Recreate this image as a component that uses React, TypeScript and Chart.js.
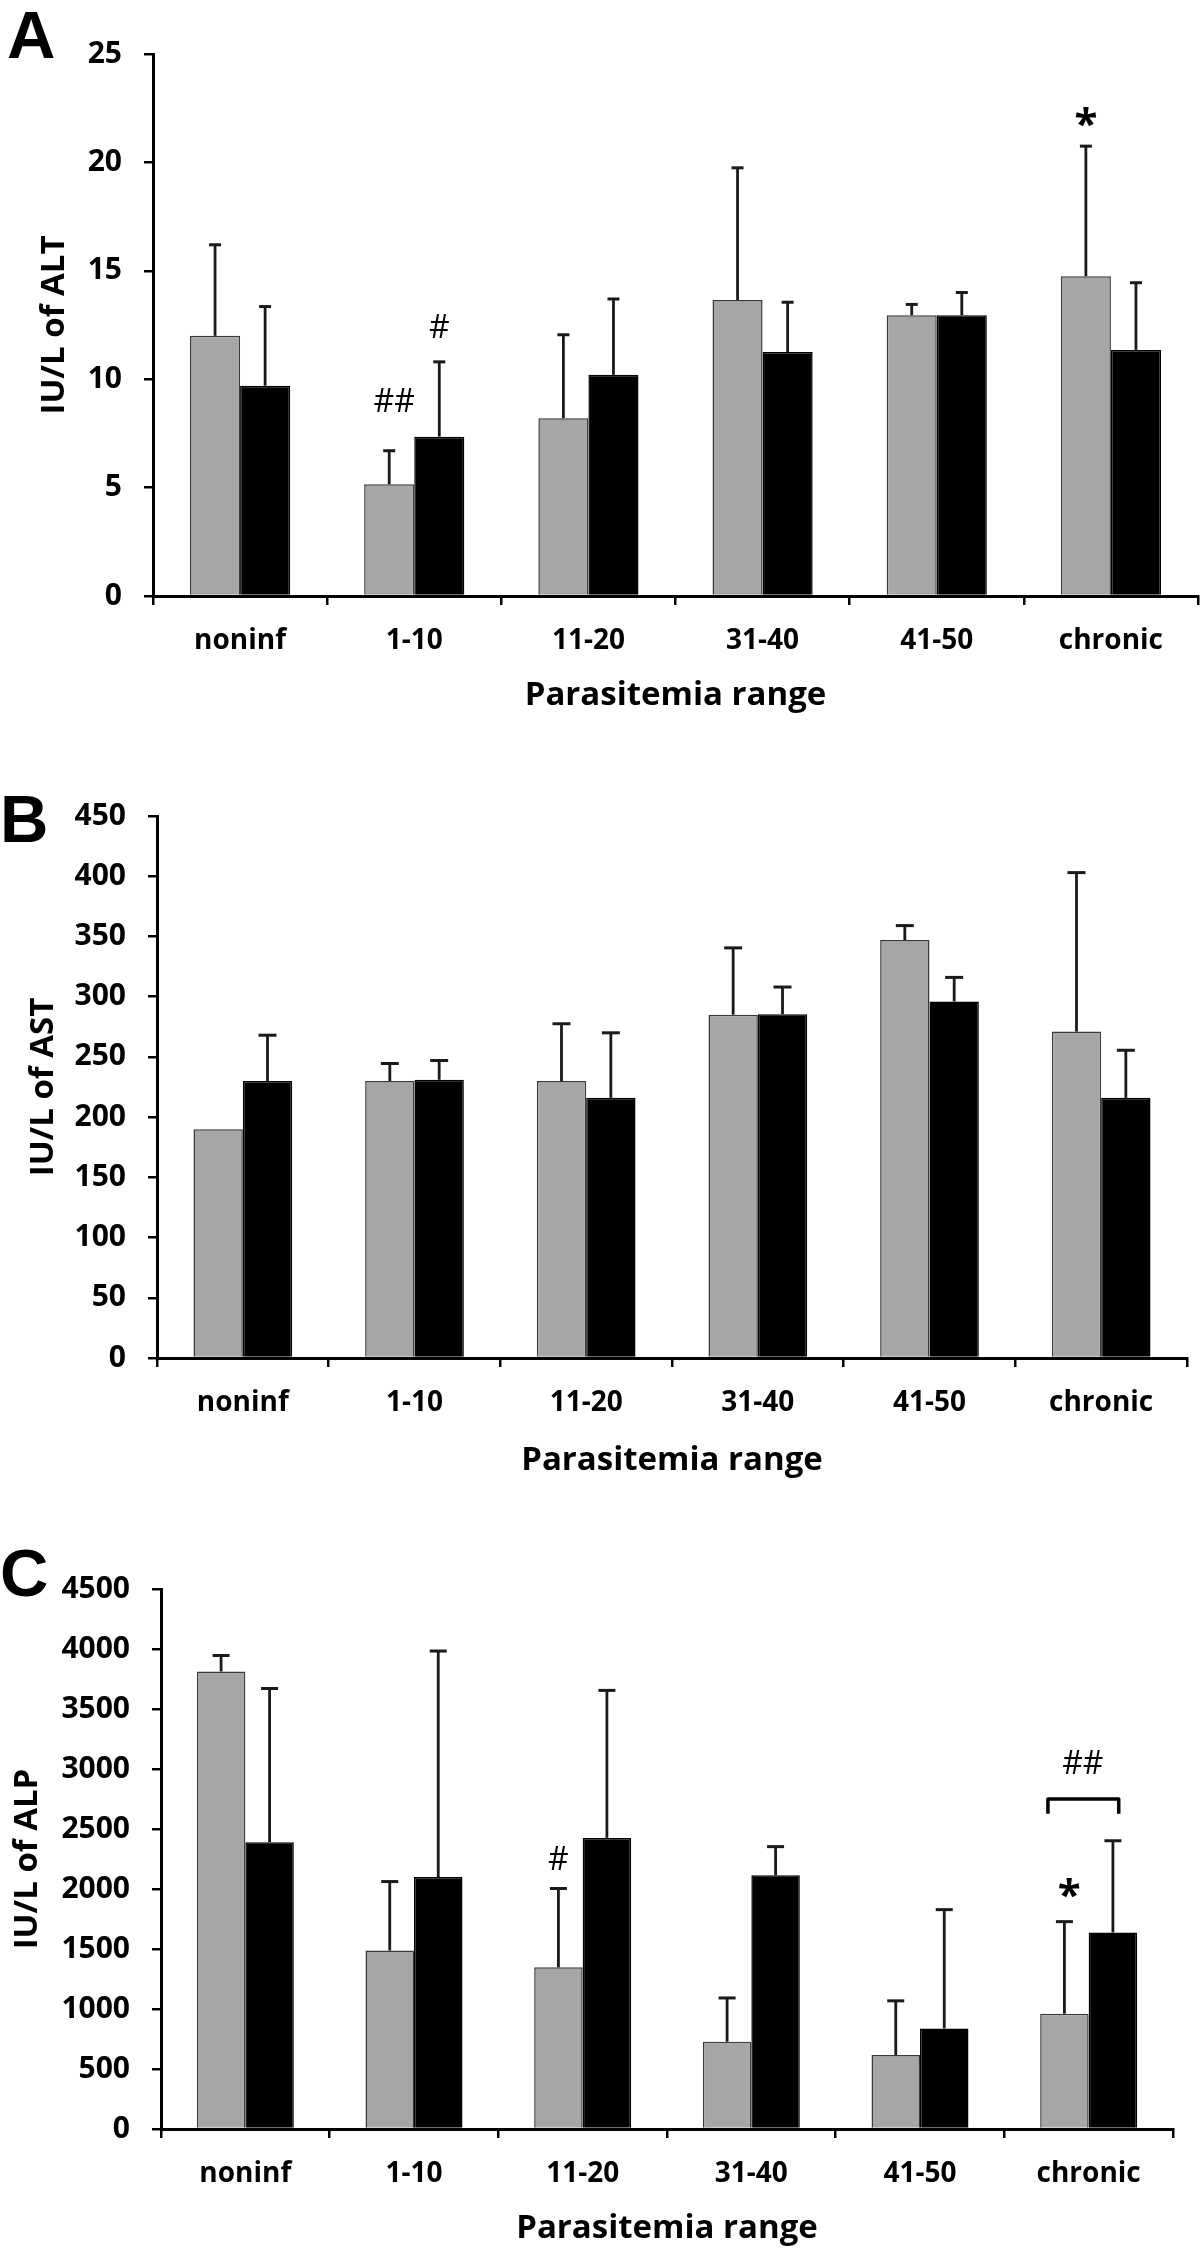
import React, { useEffect, useRef } from "react";
import { Chart, registerables } from "chart.js";

Chart.register(...registerables);

// ---------- data ----------
const categories = ["noninf", "1-10", "11-20", "31-40", "41-50", "chronic"];

// Panel A : ALT
const altGray = [12.0, 5.15, 8.2, 13.65, 12.95, 14.75];
const altGrayErr = [4.2, 1.55, 3.85, 6.1, 0.5, 6.0];
const altBlack = [9.7, 7.35, 10.2, 11.25, 12.95, 11.35];
const altBlackErr = [3.65, 3.45, 3.5, 2.3, 1.05, 3.1];

// Panel B : AST
const astGray = [190, 230, 230, 285, 347, 271];
const astGrayErr = [0, 14.5, 47.5, 55.5, 12, 132];
const astBlack = [230, 231, 216, 285.5, 296, 216];
const astBlackErr = [38, 16, 54, 22.5, 20, 39.5];

// Panel C : ALP
const alpGray = [3813, 1487, 1347, 727, 616, 961];
const alpGrayErr = [133, 575, 657, 365, 452, 767];
const alpBlack = [2390, 2099, 2426, 2114, 838, 1638];
const alpBlackErr = [1281, 1884, 1229, 239, 990, 764];

// axis ranges
const altAxis = { max: 25, step: 5 };
const astAxis = { max: 450, step: 50 };
const alpAxis = { max: 4500, step: 500 };

const xTitle = "Parasitemia range";

// significance marks: category, position between gray(0) and black(1), value (glyph centre)
const altMarks = [
  { cat: 1, t: 0.1, value: 9.03, text: "##", kind: "hash" },
  { cat: 1, t: 1.0, value: 12.45, text: "#", kind: "hash" },
  { cat: 5, t: 0.0, value: 22.1, text: "*", kind: "star" },
];
const alpMarks = [
  { cat: 2, t: 0.0, value: 2258, text: "#", kind: "hash" },
  { cat: 5, t: 0.1, value: 2011, text: "*", kind: "star" },
  { cat: 5, t: 0.38, value: 3062, text: "##", kind: "hash" },
];
const alpBracket = { cat: 5, t0: -0.34, t1: 1.12, top: 2750, bottom: 2627 };

// ---------- styling ----------
const FONT = '"Open Sans", sans-serif';
const GRAY = "#a6a6a6";

interface Mark { cat: number; t: number; value: number; text: string; kind: string }
interface PanelCfg {
  letter: string; letterX: number; letterY: number;
  top: number; height: number;
  gray: number[]; grayErr: number[]; black: number[]; blackErr: number[];
  yMax: number; yStep: number; yTitle: string;
  pad: { top: number; left: number; right: number; bottom: number };
  yWidth: number; xHeight: number; capW: number;
  marks: Mark[];
  bracket?: { cat: number; t0: number; t1: number; top: number; bottom: number };
}

const panels: PanelCfg[] = [
  {
    letter: "A", letterX: 7, letterY: 58, top: 0, height: 740,
    gray: altGray, grayErr: altGrayErr, black: altBlack, blackErr: altBlackErr,
    yMax: altAxis.max, yStep: altAxis.step, yTitle: "IU/L of ALT",
    pad: { top: 54, left: 38, right: 2, bottom: 28 }, yWidth: 115, xHeight: 116, capW: 12,
    marks: altMarks,
  },
  {
    letter: "B", letterX: 0, letterY: 102, top: 740, height: 760,
    gray: astGray, grayErr: astGrayErr, black: astBlack, blackErr: astBlackErr,
    yMax: astAxis.max, yStep: astAxis.step, yTitle: "IU/L of AST",
    pad: { top: 76, left: 27, right: 13, bottom: 23 }, yWidth: 130, xHeight: 119, capW: 18,
    marks: [],
  },
  {
    letter: "C", letterX: 0, letterY: 96, top: 1500, height: 752,
    gray: alpGray, grayErr: alpGrayErr, black: alpBlack, blackErr: alpBlackErr,
    yMax: alpAxis.max, yStep: alpAxis.step, yTitle: "IU/L of ALP",
    pad: { top: 89, left: 11, right: 27, bottom: 7 }, yWidth: 150, xHeight: 116, capW: 17,
    marks: alpMarks, bracket: alpBracket,
  },
];

function Panel({ cfg }: { cfg: PanelCfg }) {
  const ref = useRef<HTMLCanvasElement | null>(null);

  useEffect(() => {
    if (!ref.current) return;
    const errs = [cfg.grayErr, cfg.blackErr];

    const xAt = (chart: any, cat: number, t: number) => {
      const g = chart.getDatasetMeta(0).data[cat] as any;
      const b = chart.getDatasetMeta(1).data[cat] as any;
      return g.x + t * (b.x - g.x);
    };

    const extras = {
      id: "extras",
      afterDatasetsDraw(chart: any) {
        const { ctx } = chart;
        const y = chart.scales.y;
        ctx.save();
        // error bars (upper only)
        ctx.strokeStyle = "#1a1a1a";
        chart.data.datasets.forEach((ds: any, i: number) => {
          const meta = chart.getDatasetMeta(i);
          meta.data.forEach((el: any, j: number) => {
            const e = errs[i][j];
            if (!e) return;
            const v = ds.data[j] as number;
            const yt = y.getPixelForValue(v + e);
            ctx.lineWidth = 2.8;
            ctx.beginPath();
            ctx.moveTo(el.x, el.y);
            ctx.lineTo(el.x, yt);
            ctx.stroke();
            ctx.lineWidth = 3;
            ctx.beginPath();
            ctx.moveTo(el.x - cfg.capW / 2, yt);
            ctx.lineTo(el.x + cfg.capW / 2, yt);
            ctx.stroke();
          });
        });
        // significance marks
        ctx.fillStyle = "#000";
        cfg.marks.forEach((m) => {
          ctx.font = m.kind === "star" ? `bold 42px ${FONT}` : `normal 32px ${FONT}`;
          const mt = ctx.measureText(m.text);
          const asc = mt.actualBoundingBoxAscent;
          const desc = mt.actualBoundingBoxDescent;
          const yc = y.getPixelForValue(m.value);
          ctx.textAlign = "center";
          ctx.textBaseline = "alphabetic";
          ctx.fillText(m.text, xAt(chart, m.cat, m.t), yc + (asc - desc) / 2);
        });
        if (cfg.bracket) {
          const bk = cfg.bracket;
          const x0 = xAt(chart, bk.cat, bk.t0);
          const x1 = xAt(chart, bk.cat, bk.t1);
          const yt = y.getPixelForValue(bk.top);
          const yb = y.getPixelForValue(bk.bottom);
          ctx.strokeStyle = "#000";
          ctx.lineWidth = 3.5;
          ctx.lineJoin = "round";
          ctx.beginPath();
          ctx.moveTo(x0, yb);
          ctx.lineTo(x0, yt);
          ctx.lineTo(x1, yt);
          ctx.lineTo(x1, yb);
          ctx.stroke();
        }
        ctx.restore();
      },
      afterDraw(chart: any) {
        const { ctx } = chart;
        ctx.save();
        ctx.fillStyle = "#000";
        ctx.font = 'bold 67px "Liberation Sans", Arial, sans-serif';
        ctx.textAlign = "left";
        ctx.textBaseline = "alphabetic";
        ctx.fillText(cfg.letter, cfg.letterX, cfg.letterY);
        ctx.restore();
      },
    };

    const chart = new Chart(ref.current, {
      type: "bar",
      data: {
        labels: categories,
        datasets: [
          {
            data: cfg.gray,
            backgroundColor: GRAY,
            borderColor: "#3a3a3a",
            borderWidth: 1.5,
            categoryPercentage: 0.575,
            barPercentage: 1,
          },
          {
            data: cfg.black,
            backgroundColor: "#000",
            borderColor: "#000",
            borderWidth: 1.5,
            categoryPercentage: 0.575,
            barPercentage: 1,
          },
        ],
      },
      options: {
        animation: false,
        responsive: false,
        maintainAspectRatio: false,
        layout: { padding: cfg.pad, autoPadding: false } as any,
        plugins: { legend: { display: false }, tooltip: { enabled: false } },
        scales: {
          x: {
            offset: true,
            grid: {
              display: true,
              offset: true,
              drawOnChartArea: false,
              drawTicks: true,
              tickLength: 9,
              color: "#000",
              lineWidth: 2.5,
            },
            border: { display: true, color: "#000", width: 3 },
            ticks: {
              color: "#000",
              font: { family: FONT, size: 28, weight: "bold" },
              padding: 19,
              maxRotation: 0,
              autoSkip: false,
            },
            title: {
              display: true,
              text: xTitle,
              color: "#000",
              font: { family: FONT, size: 33, weight: "bold", lineHeight: 1 },
              padding: 0,
            },
            afterFit: (s: any) => {
              s.height = cfg.xHeight;
            },
          },
          y: {
            min: 0,
            max: cfg.yMax,
            grid: {
              display: true,
              drawOnChartArea: false,
              drawTicks: true,
              tickLength: 9,
              color: "#000",
              lineWidth: 2.5,
            },
            border: { display: true, color: "#000", width: 3 },
            ticks: {
              stepSize: cfg.yStep,
              color: "#000",
              font: { family: FONT, size: 30, weight: "bold" },
              padding: 22,
              callback: (v: any) => String(v),
            },
            title: {
              display: true,
              text: cfg.yTitle,
              color: "#000",
              font: { family: FONT, size: 33, weight: "bold", lineHeight: 1 },
              padding: 0,
            },
            afterFit: (s: any) => {
              s.width = cfg.yWidth;
            },
          },
        },
      } as any,
      plugins: [extras],
    });
    return () => chart.destroy();
  }, [cfg]);

  return (
    <div style={{ position: "absolute", left: 0, top: cfg.top, width: 1200, height: cfg.height }}>
      <canvas ref={ref} width={1200} height={cfg.height} style={{ display: "block", width: 1200, height: cfg.height }} />
    </div>
  );
}

export default function App() {
  return (
    <div style={{ position: "absolute", left: 0, top: 0, width: 1200, height: 2252, background: "#fff" }}>
      {panels.map((p) => (
        <Panel key={p.letter} cfg={p} />
      ))}
    </div>
  );
}
